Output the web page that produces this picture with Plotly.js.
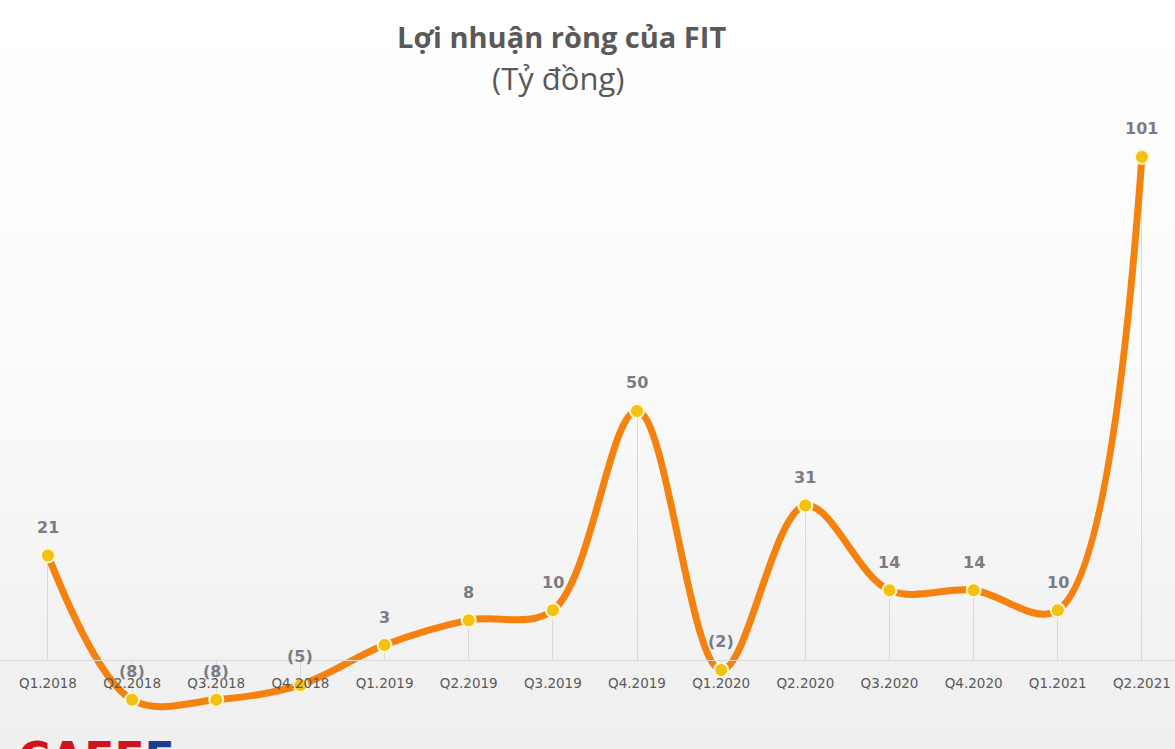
<!DOCTYPE html>
<html>
<head>
<meta charset="utf-8">
<script src="https://cdn.plot.ly/plotly-3.0.1.min.js"></script>
<style>
  html, body { margin: 0; padding: 0; }
  body { background: linear-gradient(to bottom, #ffffff 0%, #fbfbfb 45%, #efefef 100%); }
  #chart { width: 1175px; height: 749px; }
</style>
</head>
<body>
<div id="chart"></div>
<script>
const quarters = ["Q1.2018","Q2.2018","Q3.2018","Q4.2018","Q1.2019","Q2.2019","Q3.2019","Q4.2019","Q1.2020","Q2.2020","Q3.2020","Q4.2020","Q1.2021","Q2.2021"];
const profit = [21, -8, -8, -5, 3, 8, 10, 50, -2, 31, 14, 14, 10, 101];
const titleText = "Lợi nhuận ròng của FIT";
const subtitleText = "(Tỷ đồng)";

const labels = profit.map(v => v < 0 ? "(" + Math.abs(v) + ")" : String(v));

const dropLines = {
  type: "bar",
  x: quarters,
  y: profit,
  width: 0.012,
  marker: { color: "#d9d9d9" },
  hoverinfo: "skip",
  showlegend: false
};

const line = {
  type: "scatter",
  mode: "lines+markers",
  x: quarters,
  y: profit,
  line: { color: "#f5820f", width: 7, shape: "spline", smoothing: 1 },
  marker: { color: "#f3c10e", size: 14, line: { color: "#fff6d8", width: 2 } },
  cliponaxis: false,
  showlegend: false
};

const valueLabels = quarters.map((q, i) => ({
  xref: "x", yref: "y", x: q, y: profit[i],
  text: labels[i],
  showarrow: false,
  yshift: 28,
  font: { family: "DejaVu Sans", size: 16, color: "#7c7c84", weight: "bold" }
}));

const layout = {
  width: 1175,
  height: 749,
  margin: { l: 0, r: 0, t: 0, b: 0 },
  paper_bgcolor: "rgba(0,0,0,0)",
  plot_bgcolor: "rgba(0,0,0,0)",
  showlegend: false,
  xaxis: {
    type: "category",
    range: [-0.570, 13.393],
    anchor: "free",
    position: 0.1188,
    showline: true,
    linecolor: "#d9d9d9",
    linewidth: 1,
    showgrid: false,
    zeroline: false,
    ticks: "",
    ticklabelstandoff: 11,
    tickfont: { family: "DejaVu Sans", size: 13.5, color: "#595959" }
  },
  yaxis: {
    range: [-17.87, 132.5],
    visible: false,
    showgrid: false,
    zeroline: false
  },
  bargap: 0,
  annotations: valueLabels.concat([
    {
      xref: "paper", yref: "paper", x: 561 / 1175, y: 1 - 36 / 749,
      xanchor: "center", yanchor: "middle",
      text: "<b>" + titleText + "</b>",
      font: { family: "Open Sans", size: 29, color: "#595959" },
      showarrow: false
    },
    {
      xref: "paper", yref: "paper", x: 558 / 1175, y: 1 - 78 / 749,
      xanchor: "center", yanchor: "middle",
      text: subtitleText,
      font: { family: "Open Sans", size: 31, color: "#595959" },
      showarrow: false
    },
    {
      xref: "paper", yref: "paper", x: 0.014, y: 0, xanchor: "left", yanchor: "top",
      yshift: 18,
      text: "<b>CAFE<span style='color:#1b3c8f'>F</span></b>",
      font: { family: "DejaVu Sans", size: 44, color: "#d0141e" },
      showarrow: false
    }
  ])
};

Plotly.newPlot("chart", [dropLines, line], layout, { staticPlot: true });
</script>
</body>
</html>
